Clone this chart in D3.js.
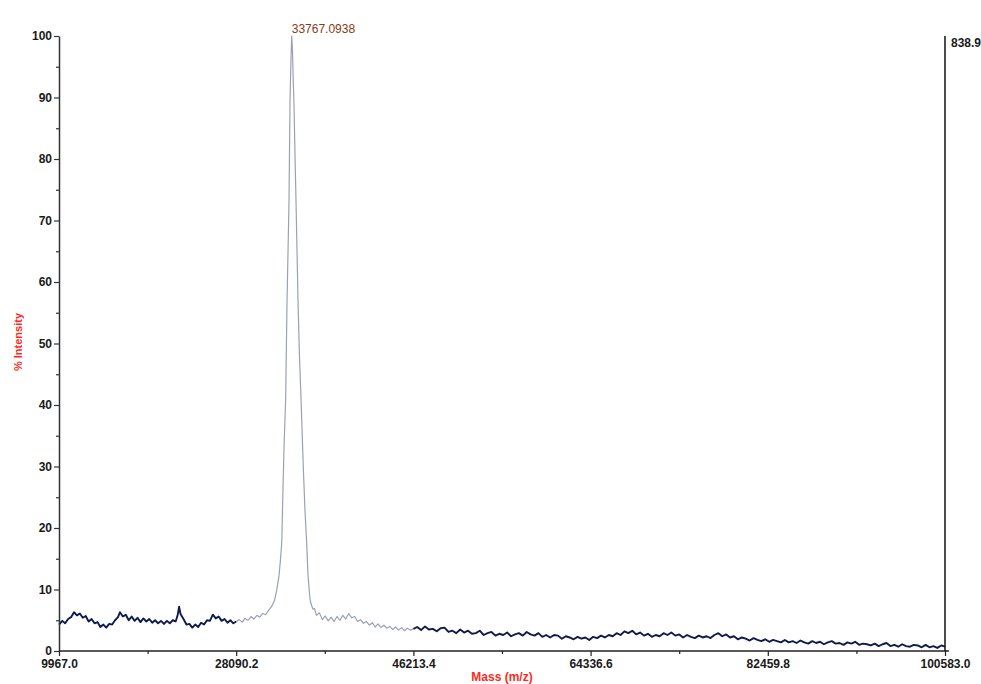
<!DOCTYPE html>
<html>
<head>
<meta charset="utf-8">
<script src="https://cdn.jsdelivr.net/npm/d3@7"></script>
<style>
  html, body { margin: 0; padding: 0; background: #fff; }
  svg { display: block; }
  .tick text { font-family: "Liberation Sans", Arial, sans-serif; font-weight: bold; font-size: 12px; fill: #1a1a1a; }
</style>
</head>
<body>
<svg id="chart" width="981" height="684"></svg>
<script>
// ---------- data ----------
const massLow = [9967,10300,10600,10900,11200,11500,11800,12100,12400,12700,13000,13300,13600,13900,14200,14500,14800,15100,15400,15700,16000,16200,16500,16800,17100,17400,17700,18000,18300,18600,18900,19200,19500,19800,20100,20400,20700,21000,21300,21600,21900,22100,22250,22400,22700,23000,23300,23600,23900,24200,24500,24800,25100,25400,25700,26000,26300,26600,26900,27200,27500,27800,28090.2];
const intensityLow = [4.3,4.9,4.5,5.2,5.5,6.3,5.8,6.1,5.4,5.7,4.8,5.2,4.5,4.7,3.9,4.3,3.8,4.4,4.3,5.0,5.5,6.3,5.6,5.9,5.0,5.6,4.9,5.4,4.7,5.3,4.8,5.2,4.6,5.0,4.5,4.9,4.4,4.9,4.5,5.0,4.8,5.8,7.2,6.0,5.2,4.3,4.4,3.8,4.3,3.9,4.6,4.3,5.0,4.9,5.9,5.3,5.6,4.9,5.2,4.6,5.0,4.5,4.8];

const massPeak = [28090.2,28400,28700,29000,29300,29600,29900,30200,30500,30800,31100,31400,31700,32000,32200,32450,32600,32750,32900,33000,33150,33280,33390,33490,33590,33690,33767,33840,33920,34000,34100,34210,34310,34410,34560,34720,34950,35120,35300,35430,35550,35650,35800,35950,36100,36300,36600,36900,37200,37500,37800,38100,38400,38700,39000,39300,39600,39900,40200,40500,40800,41100,41400,41700,42000,42300,42600,42900,43200,43500,43800,44100,44400,44700,45000,45300,45600,45900,46213.4];
const intensityPeak = [4.8,5.1,4.7,5.3,5.0,5.6,5.2,5.8,5.5,6.1,5.9,6.6,7.2,8.2,9.6,12.0,14.5,17.6,28,34,41,56,65,73,89,96,100,98,93,89,81,73,65,57,48,41,30,23,17.6,12.5,10.0,8.3,7.4,6.8,6.9,5.8,6.2,5.1,5.7,4.9,5.5,4.8,5.6,5.0,5.8,5.2,6.1,5.4,5.6,4.8,5.1,4.5,4.8,4.2,4.6,3.9,4.4,3.8,4.2,3.7,4.0,3.5,3.9,3.4,3.8,3.3,3.7,3.4,3.6];

const massHigh = [46213.4,46600,47000,47400,47800,48200,48600,49000,49400,49800,50200,50600,51000,51400,51800,52200,52600,53000,53400,53800,54200,54600,55000,55400,55800,56200,56600,57000,57400,57800,58200,58600,59000,59400,59800,60200,60600,61000,61400,61800,62200,62600,63000,63400,63800,64200,64600,65000,65400,65800,66200,66600,67000,67400,67800,68200,68600,69000,69400,69800,70200,70600,71000,71400,71800,72200,72600,73000,73400,73800,74200,74600,75000,75400,75800,76200,76600,77000,77400,77800,78200,78600,79000,79400,79800,80200,80600,81000,81400,81800,82200,82600,83000,83400,83800,84200,84600,85000,85400,85800,86200,86600,87000,87400,87800,88200,88600,89000,89400,89800,90200,90600,91000,91400,91800,92200,92600,93000,93400,93800,94200,94600,95000,95400,95800,96200,96600,97000,97400,97800,98200,98600,99000,99400,99800,100200,100583];
const intensityHigh = [3.6,3.9,3.4,4.0,3.5,3.6,3.2,3.7,3.8,3.1,3.3,2.9,3.5,3.0,3.3,2.8,2.9,3.3,2.6,2.9,3.1,2.5,2.8,2.6,3.0,2.4,2.7,2.9,2.5,3.1,2.7,2.5,2.9,2.3,2.6,2.2,2.6,2.5,2.0,2.4,2.2,1.9,2.3,2.0,2.2,1.8,2.3,2.1,2.5,2.2,2.6,2.4,2.9,2.6,3.2,2.9,3.3,2.7,3.0,2.5,2.8,2.3,2.6,2.4,2.9,2.6,3.0,2.5,2.7,2.2,2.6,2.3,2.1,2.5,2.2,2.4,2.1,2.6,2.9,2.4,2.7,2.2,2.4,1.9,2.2,2.0,1.7,2.1,1.8,1.6,1.9,1.5,1.8,1.6,1.4,1.8,1.4,1.6,1.3,1.7,1.4,1.2,1.6,1.3,1.5,1.1,1.4,1.6,1.2,1.3,1.0,1.4,1.2,1.5,1.0,1.2,1.1,0.9,1.2,0.8,1.1,1.3,0.8,1.0,0.7,1.1,0.8,0.7,1.0,0.9,0.6,1.0,0.6,0.8,0.5,0.9,0.7];

const xTicks = [9967.0, 28090.2, 46213.4, 64336.6, 82459.8, 100583.0];
const xMinorTicks = [19028.6, 37151.8, 55275.0, 73398.2, 91521.4];
const yTicks = [0,10,20,30,40,50,60,70,80,90,100];
const yMinorTicks = [5,15,25,35,45,55,65,75,85,95];
const peakLabel = {mass: 33767.0938, intensity: 100, text: "33767.0938"};
const maxCountsLabel = "838.9";
const xTitle = "Mass (m/z)";
const yTitle = "% Intensity";

// ---------- layout ----------
const svg = d3.select("#chart");
const padL = 59, padR = 945, padT = 36, padB = 651;
const x = d3.scaleLinear().domain([9967.0, 100583.0]).range([padL, padR]);
const y = d3.scaleLinear().domain([0, 100]).range([padB, padT]);

// lines
const line = d3.line().x(d => x(d[0])).y(d => y(d[1]));
const zip = (a, b) => a.map((v, i) => [v, b[i]]);

svg.append("path").datum(zip(massPeak, intensityPeak))
  .attr("d", line).attr("fill", "none")
  .attr("stroke", "#98a1b6").attr("stroke-width", 1.2).attr("stroke-linejoin", "round");
svg.append("path").datum(zip(massLow, intensityLow))
  .attr("d", line).attr("fill", "none")
  .attr("stroke", "#0f1a4d").attr("stroke-width", 1.9).attr("stroke-linejoin", "round");
svg.append("path").datum(zip(massHigh, intensityHigh))
  .attr("d", line).attr("fill", "none")
  .attr("stroke", "#0f1a4d").attr("stroke-width", 1.9).attr("stroke-linejoin", "round");

// left axis
const yAxis = d3.axisLeft(y).tickValues(yTicks).tickSize(5).tickSizeOuter(0).tickPadding(2).tickFormat(d3.format("d"));
const gy = svg.append("g").attr("transform", `translate(${padL},0)`).call(yAxis);
gy.select(".domain").attr("stroke", "#333").attr("stroke-width", 1.5);
gy.selectAll(".tick line").attr("stroke", "#333").attr("stroke-width", 1.2);
const gyMinor = svg.append("g").attr("transform", `translate(${padL},0)`)
  .call(d3.axisLeft(y).tickValues(yMinorTicks).tickSize(3).tickFormat(""));
gyMinor.select(".domain").remove();
gyMinor.selectAll(".tick line").attr("stroke", "#333").attr("stroke-width", 1.2);

// bottom axis
const xAxis = d3.axisBottom(x).tickValues(xTicks).tickSize(5).tickSizeOuter(0).tickPadding(3).tickFormat(d3.format(".1f"));
const gx = svg.append("g").attr("transform", `translate(0,${padB})`).call(xAxis);
gx.select(".domain").attr("stroke", "#222").attr("stroke-width", 1.5)
  .attr("d", `M${padL},0H${padR + 4}`);
gx.selectAll(".tick line").attr("stroke", "#222").attr("stroke-width", 1.2);
const gxMinor = svg.append("g").attr("transform", `translate(0,${padB})`)
  .call(d3.axisBottom(x).tickValues(xMinorTicks).tickSize(3).tickFormat(""));
gxMinor.select(".domain").remove();
gxMinor.selectAll(".tick line").attr("stroke", "#222").attr("stroke-width", 1.2);

// right axis line
svg.append("line").attr("x1", padR).attr("x2", padR).attr("y1", padT).attr("y2", padB)
  .attr("stroke", "#111").attr("stroke-width", 1.5);
svg.append("text").attr("x", padR + 6).attr("y", padT + 11)
  .attr("font-family", "Liberation Sans, Arial, sans-serif").attr("font-weight", "bold")
  .attr("font-size", 12).attr("fill", "#1a1a1a").text(maxCountsLabel);

// peak label
svg.append("text").attr("x", x(peakLabel.mass)).attr("y", y(peakLabel.intensity) - 3)
  .attr("font-family", "Liberation Sans, Arial, sans-serif").attr("font-size", 12)
  .attr("fill", "#8b3a14").text(peakLabel.text);

// titles
svg.append("text").attr("transform", "translate(22,342) rotate(-90)")
  .attr("text-anchor", "middle")
  .attr("font-family", "Liberation Sans, Arial, sans-serif").attr("font-weight", "bold")
  .attr("font-size", 11).attr("fill", "#ff2a1a").text(yTitle);
svg.append("text").attr("x", 502).attr("y", 681).attr("text-anchor", "middle")
  .attr("font-family", "Liberation Sans, Arial, sans-serif").attr("font-weight", "bold")
  .attr("font-size", 12).attr("fill", "#ff2a1a").text(xTitle);
</script>
</body>
</html>
